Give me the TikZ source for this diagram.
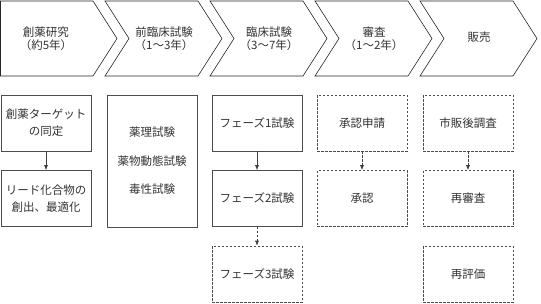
\documentclass[tikz,border=0pt]{standalone}
\usepackage{fontspec}
\setmainfont{Noto Sans CJK JP}
\usetikzlibrary{arrows.meta,positioning}

\begin{document}
\begin{tikzpicture}[
  x=1pt, y=-1pt,
  >={Latex[length=5pt,width=4pt]},
  every node/.style={font=\fontsize{11.5pt}{17pt}\selectfont, text=black!80},
  phase/.style={draw=black!85, line width=0.6pt},
  phaselabel/.style={align=center, font=\fontsize{11.5pt}{13.5pt}\selectfont},
  sbox/.style={draw=black!70, line width=0.6pt, minimum width=90pt,
              minimum height=56pt, align=center, inner sep=1pt},
  dbox/.style={sbox, dash pattern=on 2.5pt off 1.5pt},
]
  \useasboundingbox (0,0) rectangle (541,303);

  % Phase chevrons
  \draw[phase] (0.5,1) -- (93,1) -- (117,38.5) -- (93,76) -- (0.5,76) -- cycle;
  \foreach \x in {105,210,315,420}
    \draw[phase] (\x,1) -- ++(93,0) -- ++(24,37.5) -- ++(-24,37.5)
      -- ++(-93,0) -- ++(24,-37.5) -- cycle;

  % Phase labels
  \node[phaselabel] (p1) at (46,38.5) {創薬研究\\（約5年）};
  \node[phaselabel] (p2) at (164,38.5) {前臨床試験\\（1～3年）};
  \node[phaselabel] (p3) at (269,38.5) {臨床試験\\（3～7年）};
  \node[phaselabel] (p4) at (374,38.5) {審査\\（1～2年）};
  \node[phaselabel] (p5) at (479,37) {販売};

  % Research
  \node[sbox] (c1a) at (46,123) {創薬ターゲット\\の同定};
  \node[sbox] (c1b) at (46,198.5) {リード化合物の\\創出、最適化};

  % Preclinical
  \node[sbox, minimum height=132pt, font=\fontsize{11.5pt}{28.5pt}\selectfont]
    (c2) at (152,161) {薬理試験\\薬物動態試験\\毒性試験};

  % Clinical
  \node[sbox] (c3a) at (257,123) {フェーズ1試験};
  \node[sbox] (c3b) at (257,198.5) {フェーズ2試験};
  \node[dbox] (c3c) at (257,274) {フェーズ3試験};

  % Review
  \node[dbox] (c4a) at (362,123) {承認申請};
  \node[dbox] (c4b) at (362,198.5) {承認};

  % Market
  \node[dbox] (c5a) at (468,123) {市販後調査};
  \node[dbox] (c5b) at (468,198.5) {再審査};
  \node[dbox] (c5c) at (468,274) {再評価};

  % Flow arrows
  \draw[->, black!75, line width=0.6pt] (c1a) -- (c1b);
  \draw[->, black!75, line width=0.6pt] (c3a) -- (c3b);
  \draw[->, black!75, line width=0.6pt, dash pattern=on 2.5pt off 1.5pt] (c3b) -- (c3c);
  \draw[->, black!75, line width=0.6pt, dash pattern=on 2.5pt off 1.5pt] (c4a) -- (c4b);
  \draw[->, black!75, line width=0.6pt, dash pattern=on 2.5pt off 1.5pt] (c5a) -- (c5b);
\end{tikzpicture}
\end{document}
